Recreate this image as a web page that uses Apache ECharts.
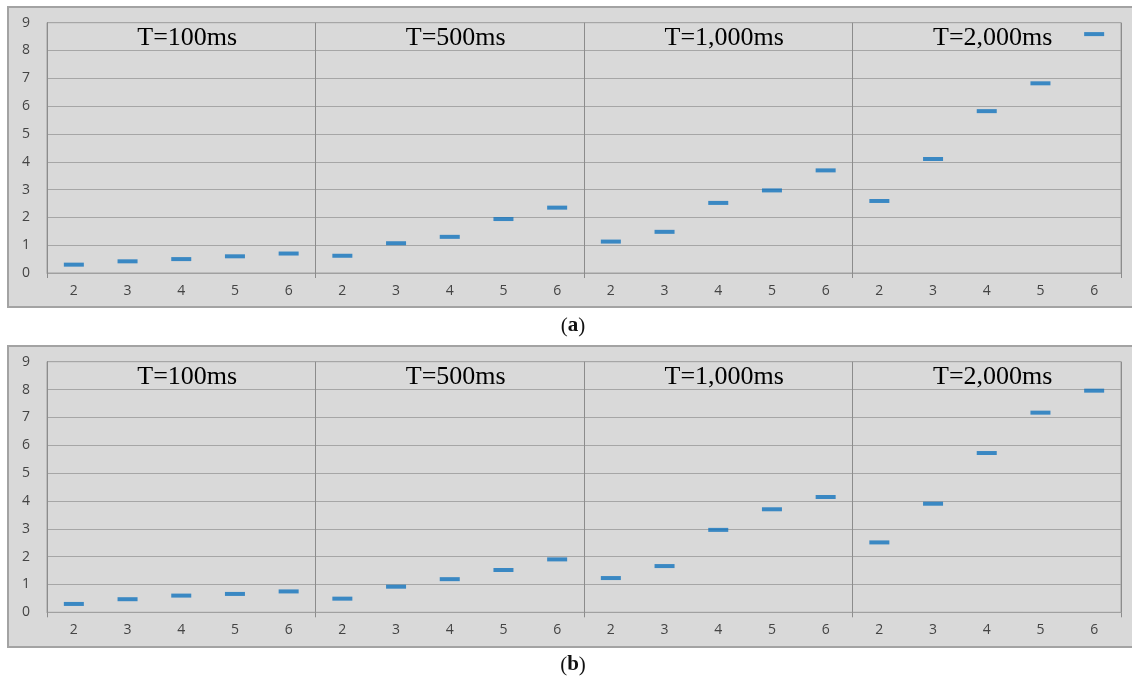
<!DOCTYPE html>
<html>
<head>
<meta charset="utf-8">
<script src="https://cdn.jsdelivr.net/npm/echarts@6/dist/echarts.min.js"></script>
<style>
  html, body { margin: 0; padding: 0; background: #fff; }
  #main { width: 1132px; height: 682px; }
</style>
</head>
<body>
<div id="main"></div>
<script>
// x ticks: numbers 2..6 repeated in each T group
var ticks = ['2', '3', '4', '5', '6'];
var groups = ['T=100ms', 'T=500ms', 'T=1,000ms', 'T=2,000ms'];
var yTicks = [0, 9];

// panel (a)
var a100 = [0.3, 0.42, 0.5, 0.6, 0.7];
var a500 = [0.62, 1.07, 1.3, 1.94, 2.35];
var a1000 = [1.13, 1.48, 2.52, 2.97, 3.69];
var a2000 = [2.59, 4.1, 5.82, 6.82, 8.59];

// panel (b)
var b100 = [0.3, 0.47, 0.6, 0.66, 0.75];
var b500 = [0.49, 0.92, 1.19, 1.52, 1.9];
var b1000 = [1.23, 1.66, 2.96, 3.7, 4.14];
var b2000 = [2.51, 3.9, 5.72, 7.17, 7.96];

var categories = [];
groups.forEach(function () {
  ticks.forEach(function (t) { categories.push(t); });
});

function toPoints(lists) {
  var pts = [];
  lists.forEach(function (list, g) {
    list.forEach(function (v, i) { pts.push([g * ticks.length + i, v]); });
  });
  return pts;
}

function isBoundary(idx) {
  return idx % ticks.length === 0;
}

function xAxisFor(gridIndex) {
  return {
    type: 'category',
    gridIndex: gridIndex,
    data: categories,
    boundaryGap: true,
    axisLine: { show: true, lineStyle: { color: '#a0a0a0', width: 1 } },
    axisTick: { show: true, length: 5, interval: function (idx) { return isBoundary(idx); }, lineStyle: { color: '#8c8c8c' } },
    splitLine: { show: true, interval: function (idx) { return isBoundary(idx); }, lineStyle: { color: '#8c8c8c', width: 1 } },
    axisLabel: { interval: 0, margin: 11, color: '#444', fontFamily: 'Open Sans', fontSize: 14 }
  };
}

function yAxisFor(gridIndex) {
  return {
    type: 'value',
    gridIndex: gridIndex,
    min: yTicks[0],
    max: yTicks[1],
    interval: 1,
    axisLine: { show: true, lineStyle: { color: '#8c8c8c' } },
    axisTick: { show: false },
    splitLine: { show: true, lineStyle: { color: '#a6a6a6', width: 1 } },
    axisLabel: { margin: 17, color: '#444', fontFamily: 'Open Sans', fontSize: 14 }
  };
}

function seriesFor(idx, lists) {
  return {
    type: 'scatter',
    xAxisIndex: idx,
    yAxisIndex: idx,
    symbol: 'rect',
    symbolSize: [20, 4],
    itemStyle: { color: '#1273bd' },
    data: toPoints(lists),
    silent: true
  };
}

var myChart = echarts.init(document.getElementById('main'));

var option = {
  animation: false,
  backgroundColor: '#fff',
  grid: [
    { left: 47, right: 11, top: 22.7, height: 250.3, show: true, borderColor: '#a0a0a0', borderWidth: 1, backgroundColor: 'transparent' },
    { left: 47, right: 11, top: 361.7, height: 250.6, show: true, borderColor: '#a0a0a0', borderWidth: 1, backgroundColor: 'transparent' }
  ],
  xAxis: [xAxisFor(0), xAxisFor(1)],
  yAxis: [yAxisFor(0), yAxisFor(1)],
  series: [
    seriesFor(0, [a100, a500, a1000, a2000]),
    seriesFor(1, [b100, b500, b1000, b2000])
  ],
  graphic: [
    { type: 'rect', z: -10, shape: { x: 8, y: 7, width: 1130, height: 300 }, style: { fill: '#d9d9d9', stroke: '#a3a3a3', lineWidth: 2 } },
    { type: 'rect', z: -10, shape: { x: 8, y: 346, width: 1130, height: 301 }, style: { fill: '#d9d9d9', stroke: '#a3a3a3', lineWidth: 2 } },
    {
      type: 'text', x: 573, y: 326,
      style: {
        text: '({b|a})', textAlign: 'center', textVerticalAlign: 'middle',
        font: '21px "Liberation Serif"', fill: '#111',
        rich: { b: { fontWeight: 'bold', fontFamily: 'Liberation Serif', fontSize: 21 } }
      }
    },
    {
      type: 'text', x: 573, y: 665,
      style: {
        text: '({b|b})', textAlign: 'center', textVerticalAlign: 'middle',
        font: '21px "Liberation Serif"', fill: '#111',
        rich: { b: { fontWeight: 'bold', fontFamily: 'Liberation Serif', fontSize: 21 } }
      }
    }
  ]
};

myChart.setOption(option);

// group titles centred over the middle tick of each T group
var titles = [];
[0, 1].forEach(function (gi) {
  groups.forEach(function (name, g) {
    var mid = g * ticks.length + 2;
    var px = myChart.convertToPixel({ xAxisIndex: gi, yAxisIndex: gi }, [mid, 9]);
    titles.push({
      type: 'text',
      x: px[0] + 6,
      y: px[1] + 15,
      style: {
        text: name, textAlign: 'center', textVerticalAlign: 'middle',
        font: '26px "Liberation Serif"', fill: '#000'
      }
    });
  });
});
myChart.setOption({ graphic: option.graphic.concat(titles) });
</script>
</body>
</html>
